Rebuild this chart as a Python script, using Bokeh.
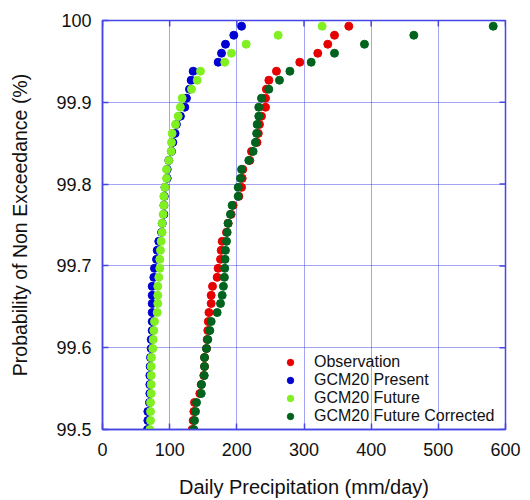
import math
from bokeh.plotting import figure
from bokeh.models import FixedTicker, Range1d
from bokeh.embed import file_html
from bokeh.resources import INLINE

# Probability of non exceedance (%) for the ranked values (shared by all series)
prob = [99.993, 99.982, 99.971, 99.960, 99.949, 99.938, 99.927, 99.916, 99.905, 99.894,
        99.883, 99.873, 99.862, 99.851, 99.840, 99.829, 99.818, 99.807, 99.796, 99.785,
        99.774, 99.763, 99.752, 99.741, 99.730, 99.719, 99.708, 99.697, 99.686, 99.675,
        99.664, 99.654, 99.643, 99.632, 99.621, 99.610, 99.599, 99.588, 99.577, 99.566,
        99.555, 99.544, 99.533, 99.522, 99.511, 99.500]

observation = [366.7, 345.4, 335.4, 320.5, 293.7, 259.0, 247.7, 244.0, 242.7, 242.7,
               236.7, 233.7, 232.0, 230.0, 221.8, 219.3, 208.9, 208.0, 207.0, 203.0,
               194.5, 191.5, 187.1, 184.6, 178.2, 176.7, 175.7, 172.2, 170.7, 163.8,
               161.8, 161.8, 158.5, 157.5, 156.8, 155.8, 154.8, 151.9, 151.9, 150.8,
               147.0, 144.9, 137.0, 136.0, 135.0, 133.5]

gcm20_present = [207.0, 195.5, 183.1, 177.2, 172.2, 135.0, 132.0, 129.5, 125.0, 122.5,
                 116.0, 110.0, 108.0, 104.7, 102.7, 98.7, 96.3, 96.3, 93.0, 92.0,
                 91.5, 91.3, 89.0, 88.0, 83.8, 81.4, 80.4, 77.4, 76.4, 74.0,
                 74.0, 74.0, 74.0, 74.0, 74.0, 72.5, 72.5, 71.5, 71.0, 70.5,
                 70.5, 70.5, 70.0, 67.5, 67.5, 67.0]

gcm20_future = [327.0, 261.5, 213.9, 192.0, 182.0, 145.9, 141.0, 132.5, 118.6, 116.0,
                112.7, 108.7, 103.7, 102.7, 102.2, 98.7, 95.3, 95.3, 92.8, 91.3,
                91.3, 90.3, 88.8, 88.8, 87.3, 86.3, 85.3, 85.3, 83.8, 82.3,
                82.3, 82.3, 81.4, 77.4, 76.4, 75.4, 74.9, 72.9, 72.5, 72.5,
                72.5, 72.5, 71.5, 71.5, 71.5, 70.5]

gcm20_future_corrected = [581.7, 463.5, 390.0, 345.4, 310.7, 279.0, 263.5, 247.6, 236.7, 232.7,
                          232.7, 230.3, 229.5, 227.8, 224.3, 217.8, 207.0, 205.4, 202.0, 202.0,
                          193.0, 190.5, 187.0, 185.6, 184.6, 183.1, 182.5, 182.0, 181.5, 180.0,
                          178.2, 175.7, 170.7, 161.8, 159.8, 156.8, 154.8, 151.9, 151.9, 151.5,
                          147.4, 147.0, 140.0, 138.5, 137.0, 136.0]

series_names = ["Observation", "GCM20 Present", "GCM20 Future", "GCM20 Future Corrected"]
series_colors = ["#e60000", "#0000d2", "#80f020", "#00641e"]

x_ticks = [0, 100, 200, 300, 400, 500, 600]
y_ticks = [99.5, 99.6, 99.7, 99.8, 99.9, 100.0]
y_tick_labels = ["99.5", "99.6", "99.7", "99.8", "99.9", "100"]

X_MIN, X_MAX = 0, 600
Y_MIN, Y_MAX = 99.5, 100.0

FONT = "Liberation Sans"
FRAME = "#4646e6"

p = figure(width=522, height=500, output_backend="svg", toolbar_location=None,
           x_range=Range1d(X_MIN, X_MAX), y_range=Range1d(Y_MIN, Y_MAX),
           min_border_left=102, min_border_right=17, min_border_top=20, min_border_bottom=0)

p.background_fill_color = "white"
p.border_fill_color = "white"
p.outline_line_color = FRAME
p.outline_line_width = 1.5

for g in [p.xgrid[0], p.ygrid[0]]:
    g.grid_line_color = "#3535e6"
    g.grid_line_width = 1
    g.grid_line_dash = "1 1"
    g.grid_line_alpha = 0.9

for name, col, xs in zip(series_names, series_colors,
                         [observation, gcm20_present, gcm20_future, gcm20_future_corrected]):
    p.scatter(xs, prob, size=8, color=col, line_color=col, legend_label=name)

# mirrored inward ticks on the right and top edges (half of each dash is clipped by the frame)
p.scatter([X_MAX] * len(y_ticks), y_ticks, marker="dash", size=12,
          line_color=FRAME, line_width=1.5)
p.scatter(x_ticks, [Y_MAX] * len(x_ticks), marker="dash", size=12, angle=math.pi / 2,
          line_color=FRAME, line_width=1.5)

xt = FixedTicker(ticks=x_ticks)
yt = FixedTicker(ticks=y_ticks)
p.xaxis.ticker = xt
p.yaxis.ticker = yt
p.yaxis.major_label_overrides = {v: s for v, s in zip(y_ticks, y_tick_labels)}

p.xaxis.axis_label = "Daily Precipitation (mm/day)"
p.yaxis.axis_label = "Probability of Non Exceedance (%)"

for ax in [p.xaxis[0], p.yaxis[0]]:
    ax.axis_line_color = FRAME
    ax.axis_line_width = 1.5
    ax.major_tick_line_color = FRAME
    ax.major_tick_line_width = 1.5
    ax.major_tick_in = 6
    ax.major_tick_out = 0
    ax.minor_tick_line_color = None
    ax.major_label_text_font = FONT
    ax.major_label_text_font_size = "18px"
    ax.major_label_text_color = "#111111"
    ax.axis_label_text_font = FONT
    ax.axis_label_text_font_style = "normal"
    ax.axis_label_text_color = "#111111"

p.xaxis.axis_label_text_font_size = "20px"
p.yaxis.axis_label_text_font_size = "19.5px"
p.xaxis.major_label_standoff = 13
p.xaxis.axis_label_standoff = 17
p.yaxis.major_label_standoff = 11
p.yaxis.axis_label_standoff = 22

lg = p.legend[0]
lg.location = (180, 4)
lg.padding = 0
lg.margin = 0
lg.spacing = -4
lg.glyph_width = 16
lg.glyph_height = 16
lg.label_height = 16
lg.label_standoff = 16
lg.label_text_font = FONT
lg.label_text_font_size = "16px"
lg.label_text_color = "#111111"
lg.background_fill_alpha = 0
lg.border_line_alpha = 0

open("out.html", "w").write(file_html(p, INLINE))
